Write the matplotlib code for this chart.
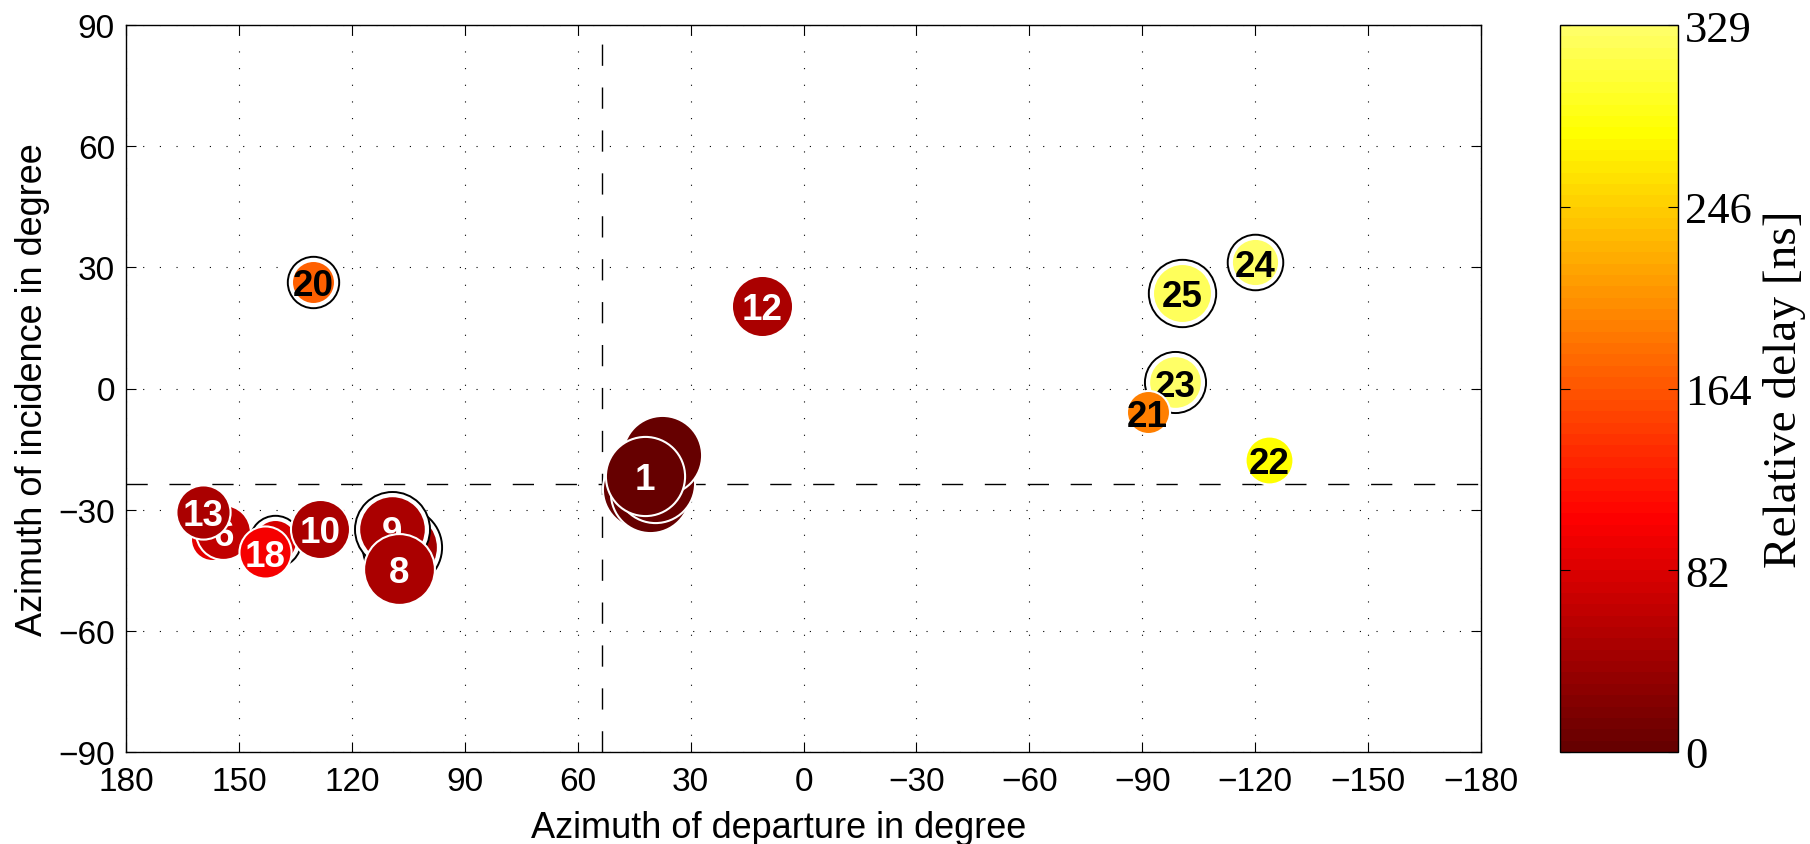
import numpy as np
import matplotlib
matplotlib.use("Agg")
import matplotlib.pyplot as plt
from matplotlib.colors import ListedColormap, Normalize
from matplotlib.cm import ScalarMappable

plt.rcParams['font.family'] = ['Liberation Sans', 'DejaVu Sans']

# Multipath components, listed in drawing order (later ones sit on top).
# An empty label marks a component hidden beneath its neighbours.
path_label = ['', '', '', '', '1', '12', '', '6', '13', '', '18', '10', '', '9', '8',
              '20', '23', '21', '22', '25', '24']
aod_deg = [42.9, 40.8, 39.5, 37.6, 42.1, 11.0, 157.2, 154.1, 159.5, 140.4, 143.1, 128.5,
           106.8, 109.4, 107.5, 130.2, -98.7, -91.4, -123.7, -100.5, -119.9]
aoa_deg = [-24.9, -25.9, -23.4, -16.5, -21.7, 20.4, -37.3, -35.6, -30.6, -37.7, -40.6, -34.8,
           -39.3, -34.8, -44.7, 26.3, 1.5, -5.9, -17.6, 23.6, 31.2]
delay_ns = [2, 3, 1, 0, 0, 47, 92, 66, 50, 80, 99, 47,
            45, 47, 47, 172, 326, 194, 282, 322, 324]
# bubble diameter (points), encodes path strength
bubble_d = [57, 57, 57, 57, 57, 44, 31, 39.5, 39, 31, 37.5, 42.5,
            51, 48, 51, 31, 38, 31, 34.5, 42.5, 34]
# components marked with an outer black ring
ringed = [False, False, False, False, False, False, False, False, False, True, False, False,
          True, True, False, True, True, False, False, True, True]

# line-of-sight reference directions
los_aod = 53.6
los_aoa = -23.6

delay_max = 329
cbar_ticks = [0, 82.25, 164.5, 246.75, 329]
cbar_ticklabels = ['0', '82', '164', '246', '329']
x_ticks = list(range(180, -181, -30))
y_ticks = list(range(-90, 91, 30))

# truncated "hot" colormap: dark red -> red -> yellow -> pale yellow
t = np.linspace(0.15, 0.85, 64)
rgb = np.stack([np.clip(t / 0.375, 0, 1),
                np.clip((t - 0.375) / 0.375, 0, 1),
                np.clip((t - 0.75) / 0.25, 0, 1)], axis=1)
cmap = ListedColormap(rgb)
norm = Normalize(vmin=0, vmax=delay_max)

W, H = 1810, 845
fig = plt.figure(figsize=(W / 100, H / 100), dpi=100)
ax = fig.add_axes([126 / W, (H - 753) / H, 1355 / W, 727 / H])
cax = fig.add_axes([1560 / W, (H - 753) / H, 118 / W, 727 / H])

ax.set_xlim(180, -180)
ax.set_ylim(-90, 90)
ax.set_xticks(x_ticks)
ax.set_yticks(y_ticks)
ax.grid(True, color='black', linewidth=0.8, linestyle=(0, (1, 14)))
ax.set_axisbelow(True)
ax.tick_params(direction='in', length=7, width=0.8, top=True, right=True,
               labelsize=24, pad=8)
ax.tick_params(axis='x', pad=10)
for sp in ax.spines.values():
    sp.set_linewidth(1.0)

ax.axvline(los_aod, color='black', linewidth=1.0, dashes=(15.3, 15.6), zorder=1)
ax.axhline(los_aoa, color='black', linewidth=1.0, dashes=(15.3, 15.6), zorder=1)

z = 3
for lab, x, y, d, dd, ring in zip(path_label, aod_deg, aoa_deg, delay_ns, bubble_d, ringed):
    col = cmap(norm(d))
    if ring:
        ax.scatter([x], [y], s=(dd + 6) ** 2, facecolor='white', edgecolor='black',
                   linewidths=1.4, zorder=z)
        z += 1
    ax.scatter([x], [y], s=dd ** 2, facecolor=col, edgecolor='white',
               linewidths=1.5, zorder=z)
    z += 1
    if lab:
        txt_col = 'white' if d < 130 else 'black'
        ax.annotate(lab, (x, y), xytext=(0, -9.5), textcoords='offset points',
                    ha='center', va='baseline', fontsize=26.5, fontweight='bold',
                    color=txt_col, zorder=z)
        z += 1

ax.set_xlabel('Azimuth of departure in degree', fontsize=26)
ax.set_ylabel('Azimuth of incidence in degree', fontsize=26)
ax.xaxis.set_label_coords(0.482, -0.08)
ax.yaxis.set_label_coords(-0.056, 0.5)

sm = ScalarMappable(norm=norm, cmap=cmap)
cb = fig.colorbar(sm, cax=cax, ticks=cbar_ticks)
cb.ax.set_yticklabels(cbar_ticklabels, fontfamily='Liberation Serif', fontsize=32)
cb.ax.tick_params(direction='in', length=7, width=0.8, left=True, right=True, pad=5)
cb.outline.set_linewidth(1.0)
cb.set_label('Relative delay [ns]', fontfamily='Liberation Serif', fontsize=34,
             labelpad=8)

fig.savefig('out.png', dpi=100)
